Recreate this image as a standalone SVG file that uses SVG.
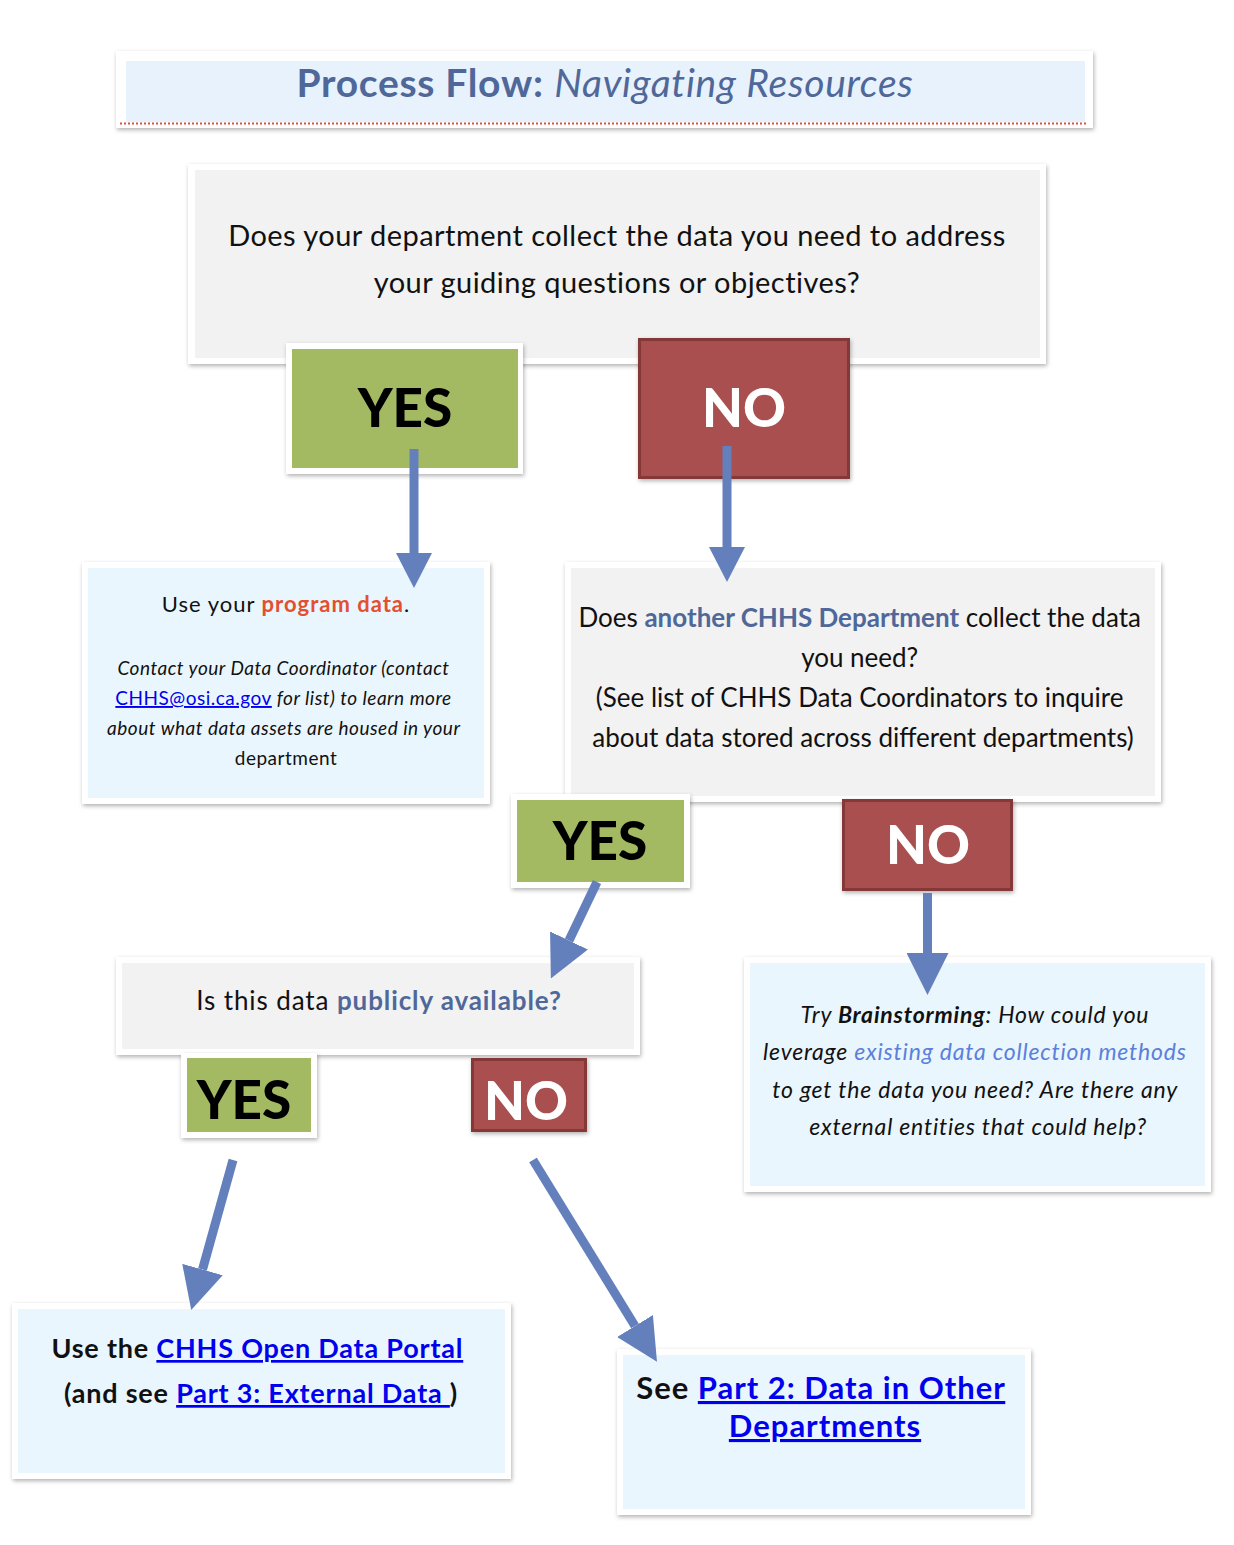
<svg xmlns="http://www.w3.org/2000/svg" width="1234" height="1545" viewBox="0 0 1234 1545">
<style>
  .t{font-family:Lato,"Noto Sans","Liberation Sans",sans-serif;fill:#111}
  .frame{fill:#fff;filter:url(#sh)}
  .gray{fill:#F2F2F2}
  .blue{fill:#EAF6FD}
  .green{fill:#A4BA62}
  .red{fill:#A94F4F;stroke:#853838;stroke-width:3;filter:url(#sh)}
  .yes{font-family:Lato,"Noto Sans","Liberation Sans",sans-serif;font-weight:900;fill:#000;text-anchor:middle}
  .no{font-family:Lato,"Noto Sans","Liberation Sans",sans-serif;font-weight:900;fill:#fff;text-anchor:middle}
  .hl{font-weight:bold;fill:#4F6899}
  .link{fill:#0000EE;text-decoration:underline}
  .conn{stroke:#6380BC;stroke-width:9;fill:none}
</style>
<defs>
  <filter id="sh" x="-5%" y="-5%" width="112%" height="120%">
    <feDropShadow dx="1" dy="2" stdDeviation="2" flood-color="#000" flood-opacity="0.3"/>
  </filter>
  <marker id="hs" markerUnits="userSpaceOnUse" markerWidth="36" markerHeight="36" viewBox="0 0 36 36" refX="0" refY="18" orient="auto">
    <path d="M0,0 L35,18 L0,36 z" fill="#6380BC"/>
  </marker>
  <marker id="hb" markerUnits="userSpaceOnUse" markerWidth="42" markerHeight="42" viewBox="0 0 42 42" refX="0" refY="21" orient="auto">
    <path d="M0,0 L42,21 L0,42 z" fill="#6380BC"/>
  </marker>
</defs>
<rect width="1234" height="1545" fill="#fff"/>

<g id="title">
  <rect class="frame" x="116" y="51" width="977" height="77"/>
  <rect x="126" y="61" width="959" height="61" fill="#E8F2FC"/>
  <line x1="120" y1="123.5" x2="1087" y2="123.5" stroke="#E0503C" stroke-width="2" stroke-dasharray="2 2"/>
  <text class="t" x="605" y="97" font-size="39" letter-spacing="0.7" text-anchor="middle" style="fill:#4F6899"><tspan font-weight="bold">Process Flow:</tspan> <tspan font-style="italic">Navigating Resources</tspan></text>
</g>

<g id="q1">
  <rect class="frame" x="188" y="164" width="858" height="200"/>
  <rect class="gray" x="195" y="170" width="845" height="188"/>
  <text class="t" font-size="29" letter-spacing="0.45" text-anchor="middle"><tspan x="617" y="246">Does your department collect the data you need to address</tspan><tspan x="617" y="293">your guiding questions or objectives?</tspan></text>
</g>

<g id="yes1">
  <rect class="frame" x="286" y="343" width="237" height="131"/>
  <rect class="green" x="292" y="349" width="226" height="119"/>
  <text class="yes" x="405" y="427" font-size="53">YES</text>
</g>

<g id="no1">
  <rect class="red" x="639.5" y="339.5" width="209" height="138"/>
  <text class="no" x="744" y="427" font-size="53">NO</text>
</g>

<g id="program">
  <rect class="frame" x="82" y="562" width="408" height="242"/>
  <rect class="blue" x="88" y="568" width="396" height="230"/>
  <text class="t" x="286" y="612" font-size="22" letter-spacing="1" text-anchor="middle">Use your <tspan font-weight="bold" style="fill:#E2502F">program data</tspan>.</text>
  <text class="t" font-size="19" letter-spacing="0.5" text-anchor="middle" font-style="italic">
    <tspan x="286" y="675">Contact your Data Coordinator (contact</tspan>
    <tspan x="286" y="705"><tspan font-style="normal" class="link">CHHS@osi.ca.gov</tspan> for list) to learn more</tspan>
    <tspan x="286" y="735">about what data assets are housed in your</tspan>
    <tspan x="286" y="765" font-style="normal">department</tspan>
  </text>
</g>

<g id="q2">
  <rect class="frame" x="565" y="562" width="596" height="240"/>
  <rect class="gray" x="571" y="568" width="584" height="228"/>
  <text class="t" font-size="26" text-anchor="middle">
    <tspan x="863" y="627">Does <tspan class="hl">another CHHS Department</tspan> collect the data</tspan>
    <tspan x="863" y="667">you need?</tspan>
    <tspan x="863" y="707">(See list of CHHS Data Coordinators to inquire</tspan>
    <tspan x="863" y="747">about data stored across different departments)</tspan>
  </text>
</g>

<g id="yes2">
  <rect class="frame" x="511" y="794" width="179" height="94"/>
  <rect class="green" x="517" y="800" width="167" height="82"/>
  <text class="yes" x="600" y="860" font-size="53">YES</text>
</g>

<g id="no2">
  <rect class="red" x="843.5" y="800.5" width="168" height="89"/>
  <text class="no" x="928" y="864" font-size="53">NO</text>
</g>

<g id="q3">
  <rect class="frame" x="116" y="957" width="524" height="98"/>
  <rect class="gray" x="122" y="963" width="512" height="86"/>
  <text class="t" x="379" y="1010" font-size="26" letter-spacing="0.9" text-anchor="middle">Is this data <tspan class="hl">publicly available?</tspan></text>
</g>

<g id="yes3">
  <rect class="frame" x="181" y="1053" width="136" height="85"/>
  <rect class="green" x="187" y="1058" width="124" height="74"/>
  <text class="yes" x="244" y="1119" font-size="53">YES</text>
</g>

<g id="no3">
  <rect class="red" x="472.5" y="1059.5" width="113" height="71"/>
  <text class="no" x="526" y="1120" font-size="53">NO</text>
</g>

<g id="brainstorm">
  <rect class="frame" x="744" y="957" width="467" height="235"/>
  <rect class="blue" x="750" y="963" width="455" height="223"/>
  <text class="t" font-size="23" letter-spacing="0.8" text-anchor="middle" font-style="italic">
    <tspan x="978" y="1023">Try <tspan font-weight="bold">Brainstorming</tspan>: How could you</tspan>
    <tspan x="978" y="1060">leverage <tspan style="fill:#5A80DC">existing data collection methods</tspan></tspan>
    <tspan x="978" y="1098">to get the data you need? Are there any</tspan>
    <tspan x="978" y="1135">external entities that could help?</tspan>
  </text>
</g>

<g id="opendata">
  <rect class="frame" x="12" y="1303" width="499" height="176"/>
  <rect class="blue" x="18" y="1309" width="487" height="164"/>
  <text class="t" font-size="27" letter-spacing="0.8" font-weight="bold" text-anchor="middle">
    <tspan x="261" y="1358">Use the <tspan class="link">CHHS Open Data Portal</tspan></tspan>
    <tspan x="261" y="1403">(and see <tspan class="link">Part 3: External Data </tspan>)</tspan>
  </text>
</g>

<g id="part2">
  <rect class="frame" x="617" y="1349" width="414" height="166"/>
  <rect class="blue" x="623" y="1355" width="402" height="154"/>
  <text class="t" font-size="31" letter-spacing="1" font-weight="bold" text-anchor="middle">
    <tspan x="825" y="1399">See <tspan class="link">Part 2: Data in Other</tspan></tspan>
    <tspan x="825" y="1437" class="link">Departments</tspan>
  </text>
</g>

<g id="connectors">
  <line class="conn" x1="414" y1="449" x2="414" y2="553" marker-end="url(#hs)"/>
  <line class="conn" x1="727" y1="446" x2="727" y2="547" marker-end="url(#hs)"/>
  <line class="conn" x1="597" y1="882" x2="569" y2="940.5" marker-end="url(#hb)"/>
  <line class="conn" x1="927.5" y1="893" x2="927.5" y2="953" marker-end="url(#hb)"/>
  <line class="conn" x1="233" y1="1160" x2="202.5" y2="1269.5" marker-end="url(#hb)"/>
  <line class="conn" x1="533" y1="1160" x2="635" y2="1326" marker-end="url(#hb)"/>
</g>
</svg>
